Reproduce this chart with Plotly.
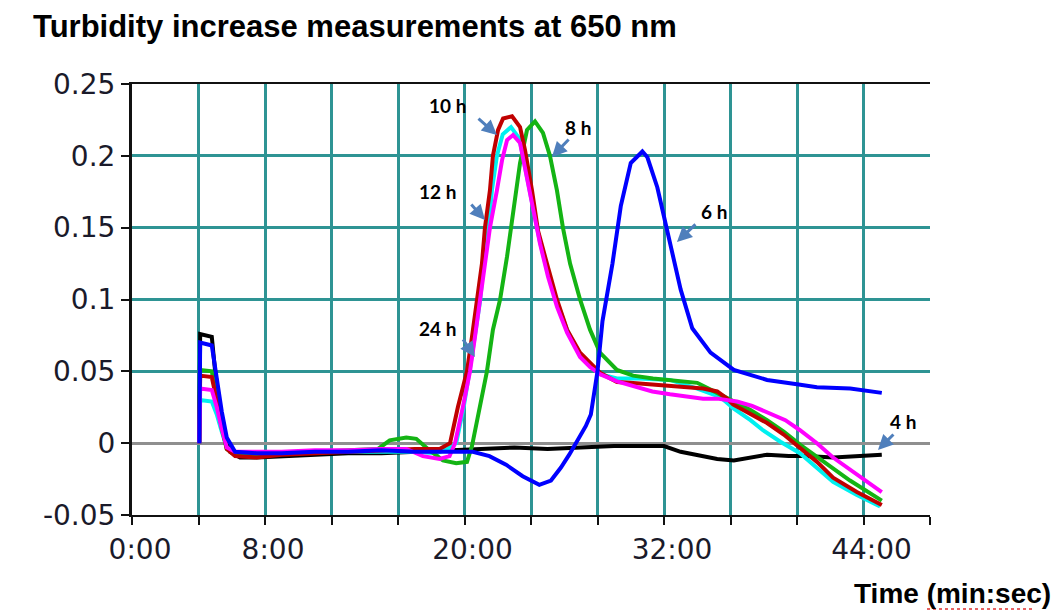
import plotly.graph_objects as go

# ---------------- data (time in minutes, absorbance increase) ----------------
t_4h = [4.05, 4.1, 4.8, 5.0, 5.3, 5.6, 5.9, 6.5, 7.5, 9, 11, 13, 15, 17, 19, 21, 23, 25, 27, 29,
        30.5, 32, 33, 34.2, 35.2, 36.2, 37.2, 38.2, 39.5, 40.5, 42.2, 43.5, 45.1]
y_4h = [0.0, 0.076, 0.074, 0.05, 0.025, 0.004, -0.006, -0.010, -0.010, -0.009, -0.008, -0.007,
        -0.007, -0.006, -0.005, -0.004, -0.003, -0.004, -0.003, -0.002, -0.002, -0.002, -0.006,
        -0.009, -0.011, -0.012, -0.010, -0.008, -0.009, -0.009, -0.010, -0.009, -0.008]

t_6h = [4.05, 4.1, 4.8, 5.1, 5.4, 5.7, 6.2, 7.5, 9, 11, 13, 15, 17, 19, 20.5, 21.5, 22.5, 23.5,
        24.5, 25.2, 25.8, 26.3, 26.8, 27.3, 27.6, 28.0, 28.3, 28.9, 29.4, 30.0, 30.7, 31.0, 31.6,
        32.3, 33.0, 33.7, 34.8, 36.2, 38.2, 40.0, 41.2, 43.2, 44.5, 45.1]
y_6h = [0.0, 0.070, 0.068, 0.045, 0.022, 0.004, -0.006, -0.007, -0.007, -0.006, -0.006, -0.005,
        -0.006, -0.006, -0.006, -0.009, -0.015, -0.023, -0.029, -0.026, -0.017, -0.008, 0.002,
        0.012, 0.020, 0.050, 0.085, 0.125, 0.165, 0.195, 0.203, 0.199, 0.178, 0.143, 0.107,
        0.080, 0.063, 0.051, 0.044, 0.041, 0.039, 0.038, 0.036, 0.035]

t_8h = [4.05, 4.1, 4.8, 5.1, 5.4, 5.7, 6.2, 7.5, 9, 11, 13, 14.8, 15.5, 16.5, 17.1, 17.8, 18.7,
        19.5, 20.15, 20.45, 20.93, 21.35, 21.71, 22.14, 22.56, 22.92, 23.34, 23.76, 24.24, 24.72,
        25.14, 25.56, 25.92, 26.35, 26.95, 27.55, 28.15, 29.17, 30.14, 31.34, 33.0, 34.0, 35.19,
        36.2, 37.2, 38.2, 39.2, 40.18, 41.5, 43.19, 45.1]
y_8h = [0.0, 0.051, 0.050, 0.030, 0.010, -0.004, -0.008, -0.008, -0.007, -0.006, -0.005, -0.004,
        0.002, 0.004, 0.003, -0.004, -0.012, -0.014, -0.013, -0.002, 0.025, 0.050, 0.079, 0.100,
        0.130, 0.160, 0.195, 0.218, 0.224, 0.216, 0.200, 0.176, 0.150, 0.125, 0.100, 0.079,
        0.063, 0.051, 0.047, 0.045, 0.043, 0.042, 0.035, 0.029, 0.023, 0.016, 0.008, -0.001,
        -0.012, -0.026, -0.040]

t_10h = [4.05, 4.1, 4.8, 5.1, 5.4, 5.7, 6.2, 7.5, 9, 11, 13, 15, 17, 18.5, 19.13, 19.6, 20.15,
         20.45, 20.75, 21.05, 21.23, 21.53, 21.71, 22.02, 22.32, 22.86, 23.34, 23.64, 24.06,
         24.42, 24.96, 25.56, 26.17, 26.95, 28.15, 29.17, 29.95, 31.2, 32.36, 33.5, 34.35, 35.2,
         35.79, 36.15, 37.2, 38.2, 39.2, 40.18, 41.2, 42.17, 43.6, 45.1]
y_10h = [0.0, 0.047, 0.046, 0.030, 0.012, -0.004, -0.009, -0.010, -0.008, -0.007, -0.006, -0.005,
         -0.004, -0.004, 0.0, 0.025, 0.050, 0.074, 0.100, 0.125, 0.150, 0.176, 0.200, 0.218,
         0.226, 0.2275, 0.220, 0.204, 0.176, 0.148, 0.125, 0.100, 0.079, 0.063, 0.049, 0.0425,
         0.042, 0.041, 0.040, 0.039, 0.038, 0.036, 0.031, 0.027, 0.020, 0.014, 0.006, -0.003,
         -0.013, -0.024, -0.034, -0.043]

t_12h = [4.05, 4.1, 4.8, 5.1, 5.4, 5.7, 6.2, 7.5, 9, 11, 13, 15, 17, 18.3, 19.0, 19.5, 19.95,
         20.3, 20.6, 20.95, 21.15, 21.45, 21.65, 21.95, 22.3, 22.8, 23.3, 23.6, 24.0, 24.5, 25.0,
         25.6, 26.2, 27.0, 28.15, 29.17, 30.5, 32.36, 34.0, 35.4, 36.2, 37.2, 37.95, 39.0, 40.18,
         41.2, 42.17, 43.6, 45.0]
y_12h = [0.0, 0.030, 0.029, 0.020, 0.008, -0.003, -0.007, -0.007, -0.007, -0.006, -0.006, -0.006,
         -0.006, -0.007, -0.004, 0.0, 0.025, 0.050, 0.074, 0.100, 0.125, 0.150, 0.176, 0.200,
         0.215, 0.220, 0.212, 0.195, 0.170, 0.142, 0.119, 0.097, 0.078, 0.060, 0.048, 0.045,
         0.045, 0.044, 0.038, 0.032, 0.024, 0.016, 0.009, 0.001, -0.007, -0.017, -0.027, -0.036,
         -0.044]

t_24h = [4.05, 4.1, 4.8, 5.1, 5.4, 5.7, 6.2, 7.5, 9, 11, 13, 15, 16.5, 17.5, 18.5, 19.1, 19.43,
         19.9, 20.33, 20.63, 20.93, 21.23, 21.53, 21.95, 22.26, 22.56, 22.92, 23.34, 23.64, 24.06,
         24.54, 25.02, 25.56, 26.17, 26.95, 27.55, 28.15, 29.17, 30.14, 31.3, 32.36, 33.5, 34.35,
         35.2, 36.39, 37.3, 38.38, 39.3, 40.18, 41.2, 42.17, 43.6, 45.1]
y_24h = [0.0, 0.038, 0.037, 0.025, 0.010, -0.003, -0.006, -0.006, -0.006, -0.005, -0.005, -0.004,
         -0.004, -0.009, -0.011, -0.009, 0.0, 0.025, 0.050, 0.074, 0.100, 0.125, 0.150, 0.176,
         0.197, 0.211, 0.2145, 0.209, 0.192, 0.167, 0.139, 0.116, 0.095, 0.077, 0.060, 0.053,
         0.048, 0.043, 0.040, 0.036, 0.034, 0.032, 0.031, 0.031, 0.029, 0.026, 0.021, 0.016,
         0.009, 0.0, -0.010, -0.022, -0.034]

x_tick_vals = [0, 4, 8, 12, 16, 20, 24, 28, 32, 36, 40, 44, 48]
x_tick_text = ["0:00", "", "8:00", "", "", "20:00", "", "", "32:00", "", "", "44:00", ""]
y_tick_vals = [-0.05, 0.0, 0.05, 0.10, 0.15, 0.20, 0.25]
y_tick_text = ["-0.05", "0", "0.05", "0.1", "0.15", "0.2", "0.25"]

# callout labels, their text positions and arrow tail/head positions (data units)
labels = ["10 h", "12 h", "24 h", "8 h", "6 h", "4 h"]
label_pos = [(18.95, 0.2347), (18.35, 0.1749), (18.35, 0.080),
             (26.83, 0.2194), (35.0, 0.161), (46.38, 0.0148)]
arrow_tail = [(20.75, 0.2269), (20.33, 0.1672), (19.85, 0.0732),
              (26.35, 0.2124), (33.98, 0.1533), (45.89, 0.0071)]
arrow_head = [(21.95, 0.2145), (21.23, 0.1554), (20.63, 0.060),
              (25.26, 0.1992), (32.78, 0.140), (44.87, -0.0047)]

# ---------------- figure ----------------
series = [
    ("4 h", t_4h, y_4h, "#000000"),
    ("12 h", t_12h, y_12h, "#00F0F0"),
    ("8 h", t_8h, y_8h, "#14B414"),
    ("10 h", t_10h, y_10h, "#C00000"),
    ("24 h", t_24h, y_24h, "#FF00FF"),
    ("6 h", t_6h, y_6h, "#0000FF"),
]

fig = go.Figure()
for name, t, y, c in series:
    fig.add_trace(go.Scatter(x=t, y=y, mode="lines", name=name,
                             line=dict(color=c, width=4), showlegend=False))

grid_c = "#2E9494"
tick_font = dict(family="DejaVu Sans", size=28, color="#1a1a2a")

fig.update_layout(
    width=1058, height=612,
    margin=dict(l=132, r=128, t=84, b=97),
    paper_bgcolor="white", plot_bgcolor="white",
    showlegend=False,
    xaxis=dict(range=[0, 48], tickvals=x_tick_vals, ticktext=x_tick_text,
               showgrid=True, gridcolor=grid_c, gridwidth=3, zeroline=False,
               showline=True, linecolor="#111", linewidth=2, mirror=True,
               ticks="outside", ticklen=8, tickwidth=2, tickcolor="#111",
               ticklabelshift=8, tickfont=tick_font),
    yaxis=dict(range=[-0.05, 0.25], tickvals=y_tick_vals, ticktext=y_tick_text,
               showgrid=True, gridcolor=grid_c, gridwidth=3,
               zeroline=True, zerolinecolor="#8f8f8f", zerolinewidth=3,
               showline=True, linecolor="#111", linewidth=3,
               ticks="outside", ticklen=8, tickwidth=2, tickcolor="#111",
               tickfont=tick_font),
)

annotations = [
    dict(text="<b>Turbidity increase measurements at 650 nm</b>",
         xref="paper", yref="paper", x=(31 - 132) / 798, y=(515 - 27) / 431,
         xanchor="left", yanchor="middle", showarrow=False,
         font=dict(family="Liberation Sans, Arial", size=31, color="black")),
    dict(text="<b>Time (min:sec)</b>",
         xref="paper", yref="paper", x=(1053 - 132) / 798, y=(515 - 593) / 431,
         xanchor="right", yanchor="middle", showarrow=False,
         font=dict(family="Liberation Sans, Arial", size=28, color="black")),
]
for lab, (lx, ly), (tx, ty), (hx, hy) in zip(labels, label_pos, arrow_tail, arrow_head):
    annotations.append(dict(text="<b>%s</b>" % lab, x=lx, y=ly, xref="x", yref="y",
                            showarrow=False, xanchor="center", yanchor="middle",
                            font=dict(family="Lato, Open Sans", size=19, color="black")))
    annotations.append(dict(text="", x=hx, y=hy, xref="x", yref="y",
                            ax=tx, ay=ty, axref="x", ayref="y",
                            showarrow=True, arrowhead=2, arrowsize=1, arrowwidth=3,
                            arrowcolor="#4F7FBC", standoff=0, startstandoff=0))
fig.update_layout(annotations=annotations)

# spell-check style squiggle under "min:sec"
fig.add_shape(type="line", xref="paper", yref="paper",
              x0=(927 - 132) / 798, x1=(1033 - 132) / 798,
              y0=(515 - 609) / 431, y1=(515 - 609) / 431,
              line=dict(color="#E03030", width=1.5, dash="dot"))

fig.write_html("out.html")
